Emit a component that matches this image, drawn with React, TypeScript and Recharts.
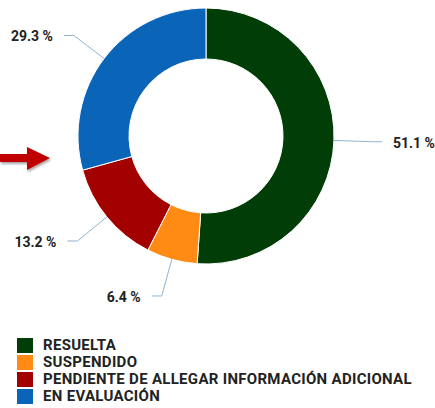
import { Legend, Pie, PieChart } from 'recharts'

const categories = ['RESUELTA', 'SUSPENDIDO', 'PENDIENTE DE ALLEGAR INFORMACIÓN ADICIONAL', 'EN EVALUACIÓN']
const percentages = [51.1, 6.4, 13.2, 29.3]
const colors = ['#013d06', '#ff8a14', '#a30000', '#0a64b8']

const data = categories.map((name, i) => ({ name, value: percentages[i], fill: colors[i] }))

const RAD = Math.PI / 180

const renderLabel = (props: any) => {
  const { cx, cy, midAngle, outerRadius, value } = props
  const cos = Math.cos(-midAngle * RAD)
  const sin = Math.sin(-midAngle * RAD)
  const sx = cx + outerRadius * cos
  const sy = cy + outerRadius * sin
  const mx = cx + (outerRadius + 38) * cos
  const my = cy + (outerRadius + 38) * sin
  const dir = cos >= 0 ? 1 : -1
  const ex = mx + dir * 10
  const ey = my
  const midX = cx + (outerRadius + 28) * cos
  const midY = cy + (outerRadius + 28) * sin
  return (
    <g>
      <path d={`M${sx},${sy} Q${midX},${midY} ${mx},${my} L${ex},${ey}`} stroke="#8fb3d0" strokeWidth={1} fill="none" />
      <text
        x={ex + dir * 11}
        y={ey + 1}
        textAnchor={dir > 0 ? 'start' : 'end'}
        dominantBaseline="central"
        fontSize={14}
        fontWeight={700}
        fill="#222"
      >
        {`${value.toFixed(1)} %`}
      </text>
    </g>
  )
}

const LegendContent = () => (
  <div style={{ paddingLeft: 17 }}>
    {data.map((d) => (
      <div key={d.name} style={{ display: 'flex', alignItems: 'center', height: 17 }}>
        <span style={{ width: 16, height: 15, background: d.fill, display: 'inline-block', marginRight: 10, flexShrink: 0 }} />
        <span style={{ fontSize: 15, fontWeight: 700, color: '#222', lineHeight: '17px', letterSpacing: 0.3, whiteSpace: 'nowrap' }}>{d.name}</span>
      </div>
    ))}
  </div>
)

export default function App() {
  return (
    <div style={{ position: 'absolute', left: 0, top: 0, width: 435, height: 408, background: '#fff', fontFamily: 'Roboto, sans-serif' }}>
      <PieChart width={435} height={408} margin={{ top: 0, right: 0, bottom: 0, left: 0 }}>
        <Pie
          data={data}
          dataKey="value"
          nameKey="name"
          cx={206}
          cy={136}
          innerRadius={77}
          outerRadius={128}
          startAngle={90}
          endAngle={-270}
          stroke="#fff"
          strokeWidth={1}
          label={renderLabel}
          labelLine={false}
          isAnimationActive={false}
        />
        <Legend
          content={<LegendContent />}
          layout="horizontal"
          verticalAlign="bottom"
          align="left"
          wrapperStyle={{ top: 337, left: 0, width: 435 }}
        />
      </PieChart>
      <svg width={60} height={40} style={{ position: 'absolute', left: 0, top: 138 }}>
        <defs>
          <filter id="sh" x="-20%" y="-20%" width="140%" height="160%">
            <feDropShadow dx={1} dy={2} stdDeviation={1.2} floodColor="#000" floodOpacity={0.35} />
          </filter>
        </defs>
        <path d="M0,16 L27,16 L27,9 L50,20 L27,32 L27,24 L0,24 Z" fill="#c00000" filter="url(#sh)" />
      </svg>
    </div>
  )
}
